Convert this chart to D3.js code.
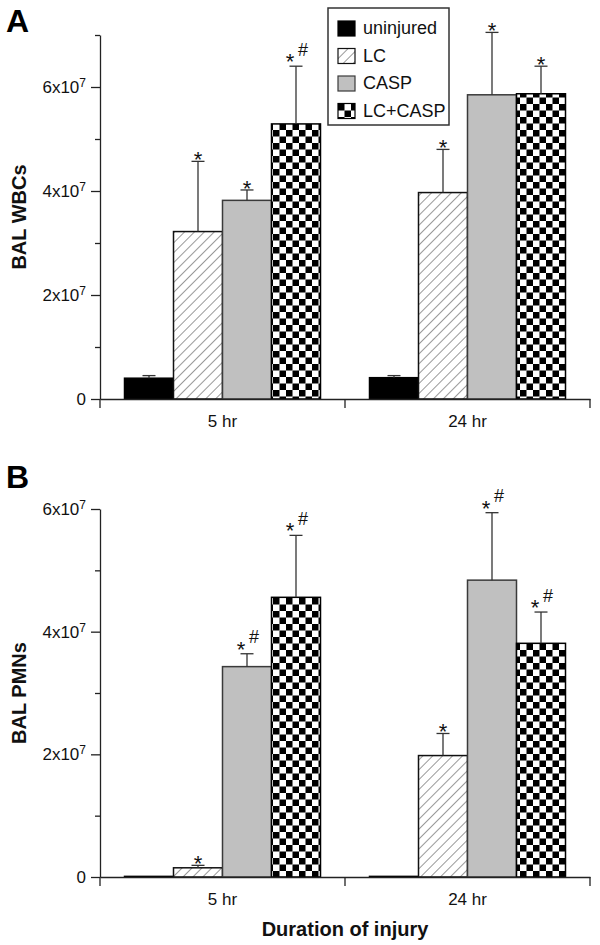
<!DOCTYPE html>
<html><head><meta charset="utf-8">
<script src="https://cdn.jsdelivr.net/npm/d3@7"></script>
<style>html,body{margin:0;padding:0;background:#fff;} svg{display:block;font-family:"Liberation Sans",Arial,sans-serif;}</style>
</head><body><svg id="c" width="600" height="945"></svg>
<script>
const groups = ["5 hr", "24 hr"];
const series = ["uninjured", "LC", "CASP", "LC+CASP"];

const wbc5hr = [0.40e7, 3.22e7, 3.82e7, 5.29e7];
const wbc5hrSem = [0.05e7, 1.35e7, 0.20e7, 1.11e7];
const wbc5hrSig = ["", "*", "*", "*#"];
const wbc24hr = [0.41e7, 3.97e7, 5.85e7, 5.87e7];
const wbc24hrSem = [0.04e7, 0.83e7, 1.20e7, 0.53e7];
const wbc24hrSig = ["", "*", "*", "*"];

const pmn5hr = [0.01e7, 0.15e7, 3.43e7, 4.56e7];
const pmn5hrSem = [0, 0.04e7, 0.21e7, 1.01e7];
const pmn5hrSig = ["", "*", "*#", "*#"];
const pmn24hr = [0.01e7, 1.98e7, 4.84e7, 3.81e7];
const pmn24hrSem = [0, 0.36e7, 1.10e7, 0.51e7];
const pmn24hrSig = ["", "*", "*#", "*#"];

const wbcTicks = [0, 1e7, 2e7, 3e7, 4e7, 5e7, 6e7, 7e7];
const wbcTickLabels = ["0", "", "2x10", "", "4x10", "", "6x10", ""];
const pmnTicks = [0, 1e7, 2e7, 3e7, 4e7, 5e7, 6e7];
const pmnTickLabels = ["0", "", "2x10", "", "4x10", "", "6x10"];
const tickExponent = "7";

const svg = d3.select("#c");
const defs = svg.append("defs");

// hatch pattern
const hp = defs.append("pattern").attr("id", "hatch").attr("patternUnits", "userSpaceOnUse")
  .attr("width", 7).attr("height", 7).attr("patternTransform", "rotate(45)");
hp.append("rect").attr("width", 7).attr("height", 7).attr("fill", "#fff");
hp.append("line").attr("x1", 0).attr("y1", 0).attr("x2", 0).attr("y2", 7)
  .attr("stroke", "#333").attr("stroke-width", 1);

// checker pattern
const cs = 6.5;
const cp = defs.append("pattern").attr("id", "checker").attr("patternUnits", "userSpaceOnUse")
  .attr("width", cs * 2).attr("height", cs * 2);
cp.append("rect").attr("width", cs * 2).attr("height", cs * 2).attr("fill", "#fff");
cp.append("rect").attr("x", 0).attr("y", 0).attr("width", cs).attr("height", cs).attr("fill", "#000");
cp.append("rect").attr("x", cs).attr("y", cs).attr("width", cs).attr("height", cs).attr("fill", "#000");

const fills = {"uninjured": "#000", "LC": "url(#hatch)", "CASP": "#c0c0c0", "LC+CASP": "url(#checker)"};
const strokes = {"uninjured": "#000", "LC": "#111", "CASP": "#3a3a3a", "LC+CASP": "#000"};

function drawPanel(p) {
  const g = svg.append("g");
  const y = d3.scaleLinear().domain([0, p.max]).range([p.y0, p.y1]);
  const x0 = d3.scaleBand().domain(groups).range([100, 590]);
  const x1 = d3.scaleBand().domain(series).range([0, x0.bandwidth()]).paddingOuter(0.5);

  const rows = [];
  groups.forEach((grp, gi) => {
    series.forEach((s, si) => {
      rows.push({grp, s, v: p.means[gi][si], e: p.sems[gi][si], sig: p.sigs[gi][si]});
    });
  });

  // bars
  g.selectAll("rect.bar").data(rows).join("rect").attr("class", "bar")
    .attr("x", d => x0(d.grp) + x1(d.s))
    .attr("y", d => y(d.v))
    .attr("width", x1.bandwidth())
    .attr("height", d => y(0) - y(d.v))
    .attr("fill", d => fills[d.s])
    .attr("stroke", d => strokes[d.s])
    .attr("stroke-width", 1.5);

  // error bars
  const eb = rows.filter(d => d.e > 0);
  g.selectAll("line.err").data(eb).join("line").attr("class", "err")
    .attr("x1", d => x0(d.grp) + x1(d.s) + x1.bandwidth() / 2)
    .attr("x2", d => x0(d.grp) + x1(d.s) + x1.bandwidth() / 2)
    .attr("y1", d => y(d.v)).attr("y2", d => y(d.v + d.e))
    .attr("stroke", "#333").attr("stroke-width", 1.3);
  g.selectAll("line.cap").data(eb).join("line").attr("class", "cap")
    .attr("x1", d => x0(d.grp) + x1(d.s) + x1.bandwidth() / 2 - 6.5)
    .attr("x2", d => x0(d.grp) + x1(d.s) + x1.bandwidth() / 2 + 6.5)
    .attr("y1", d => y(d.v + d.e)).attr("y2", d => y(d.v + d.e))
    .attr("stroke", "#333").attr("stroke-width", 1.3);

  // significance marks
  rows.filter(d => d.sig).forEach(d => {
    const cx = x0(d.grp) + x1(d.s) + x1.bandwidth() / 2;
    const cy = y(d.v + d.e);
    if (d.sig === "*") {
      g.append("text").attr("x", cx).attr("y", cy + 6).attr("text-anchor", "middle")
        .attr("font-size", 22).attr("fill", "#111").text("*");
    } else {
      g.append("text").attr("x", cx - 6).attr("y", cy + 3).attr("text-anchor", "middle")
        .attr("font-size", 22).attr("fill", "#111").text("*");
      g.append("text").attr("x", cx + 7).attr("y", cy - 10.5).attr("text-anchor", "middle")
        .attr("font-size", 18).attr("fill", "#111").text("#");
    }
  });

  // y axis
  const ya = d3.axisLeft(y).tickValues(p.ticks).tickSize(9).tickSizeOuter(0).tickPadding(5).tickFormat(() => "");
  const gy = g.append("g").attr("transform", "translate(100,0)").call(ya);
  gy.select(".domain").attr("stroke", "#222").attr("stroke-width", 1.3);
  gy.selectAll(".tick line").attr("stroke", "#222").attr("stroke-width", 1.3)
    .attr("x2", (d, i) => p.tickLabels[i] ? -9 : -5);
  gy.selectAll(".tick text").attr("font-size", 17).attr("fill", "#111")
    .attr("font-family", "'Liberation Sans', Arial, sans-serif")
    .each(function(d, i) {
      const t = d3.select(this);
      t.text(null);
      const lab = p.tickLabels[i];
      if (!lab) return;
      t.append("tspan").text(lab);
      if (lab !== "0") t.append("tspan").attr("dy", "-0.5em").attr("font-size", 12).text(tickExponent);
    });

  // x axis
  const xa = d3.axisBottom(x0).tickSize(0).tickSizeOuter(0).tickPadding(16);
  const gx = g.append("g").attr("transform", `translate(0,${p.y0})`).call(xa);
  gx.select(".domain").attr("stroke", "#222").attr("stroke-width", 1.3);
  gx.selectAll(".tick text").attr("font-size", 17).attr("fill", "#111")
    .attr("font-family", "'Liberation Sans', Arial, sans-serif");
  const bounds = [x0.range()[0]].concat(groups.map(gg => x0(gg) + x0.bandwidth()));
  gx.selectAll("line.bnd").data(bounds).join("line").attr("class", "bnd")
    .attr("x1", d => d).attr("x2", d => d).attr("y1", 0).attr("y2", 9)
    .attr("stroke", "#222").attr("stroke-width", 1.3);

  // y title
  g.append("text").attr("transform", `translate(26,${(p.y0 + p.y1) / 2}) rotate(-90)`)
    .attr("text-anchor", "middle").attr("font-size", 20).attr("font-weight", "bold")
    .attr("fill", "#111").text(p.yTitle);

  // panel label
  g.append("text").attr("x", 6).attr("y", p.labelY).attr("font-size", 32).attr("font-weight", "bold")
    .attr("fill", "#000").text(p.label);
}

drawPanel({y0: 399, y1: 35, max: 7e7, ticks: wbcTicks, tickLabels: wbcTickLabels,
  means: [wbc5hr, wbc24hr], sems: [wbc5hrSem, wbc24hrSem], sigs: [wbc5hrSig, wbc24hrSig],
  yTitle: "BAL WBCs", label: "A", labelY: 32});
drawPanel({y0: 877, y1: 509, max: 6e7, ticks: pmnTicks, tickLabels: pmnTickLabels,
  means: [pmn5hr, pmn24hr], sems: [pmn5hrSem, pmn24hrSem], sigs: [pmn5hrSig, pmn24hrSig],
  yTitle: "BAL PMNs", label: "B", labelY: 488});

// x title
svg.append("text").attr("x", 345).attr("y", 936).attr("text-anchor", "middle")
  .attr("font-size", 20).attr("font-weight", "bold").attr("fill", "#111").text("Duration of injury");

// legend
const lg = svg.append("g");
lg.append("rect").attr("x", 328).attr("y", 8).attr("width", 121).attr("height", 117)
  .attr("fill", "#fff").attr("stroke", "#333").attr("stroke-width", 1.5);
series.forEach((s, i) => {
  const by = 34 + i * 27.5;
  lg.append("rect").attr("x", 338).attr("y", by - 13).attr("width", 17).attr("height", 15)
    .attr("fill", fills[s]).attr("stroke", strokes[s]).attr("stroke-width", 1.2);
  lg.append("text").attr("x", 363).attr("y", by).attr("font-size", 18).attr("fill", "#111").text(s);
});
</script></body></html>
